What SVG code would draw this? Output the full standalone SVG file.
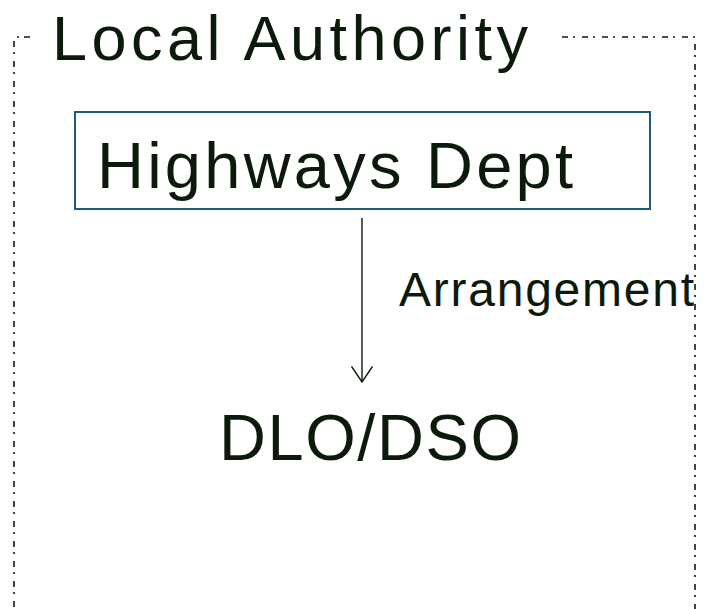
<svg xmlns="http://www.w3.org/2000/svg" width="713" height="609" viewBox="0 0 713 609">
  <style>
    .lbl { font-family: "Liberation Sans", Arial, sans-serif; fill: #0b1a0b; }
    .frame { fill: none; stroke: #0b1a0b; stroke-width: 1.6; stroke-dasharray: 6 5 2 7; }
    .box { fill: #ffffff; stroke: #1f5b78; stroke-width: 2; }
    .conn { fill: none; stroke: #0b1a0b; stroke-width: 1.4; }
  </style>
  <defs>
    <marker id="open-arrow" viewBox="0 0 17 22" refX="16" refY="11" markerWidth="17" markerHeight="22" markerUnits="userSpaceOnUse" orient="auto">
      <path d="M0.5 0.5 L16 11 L0.5 21.5" fill="none" stroke="#0b1a0b" stroke-width="1.4"/>
    </marker>
  </defs>
  <rect width="713" height="609" fill="#ffffff"/>

  <!-- Local Authority boundary (open at the top for its title) -->
  <g id="local-authority">
    <path class="frame" d="M30 37 L14 37 L14 609"/>
    <path class="frame" d="M562 37 L695 37 L695 609"/>
    <text class="lbl" x="52" y="60" font-size="63" textLength="476" lengthAdjust="spacing">Local Authority</text>
  </g>

  <g id="highways-dept">
    <rect class="box" x="75" y="112" width="575" height="97"/>
    <text class="lbl" x="97" y="188" font-size="65" textLength="476" lengthAdjust="spacing">Highways Dept</text>
  </g>

  <g id="dlo-dso">
    <text class="lbl" x="219" y="460" font-size="65" textLength="302" lengthAdjust="spacing">DLO/DSO</text>
  </g>

  <g id="connectors">
    <line class="conn" x1="362" y1="218" x2="362" y2="382" marker-end="url(#open-arrow)"/>
    <text class="lbl" x="399" y="306" font-size="48" textLength="295" lengthAdjust="spacing">Arrangement</text>
  </g>
</svg>
